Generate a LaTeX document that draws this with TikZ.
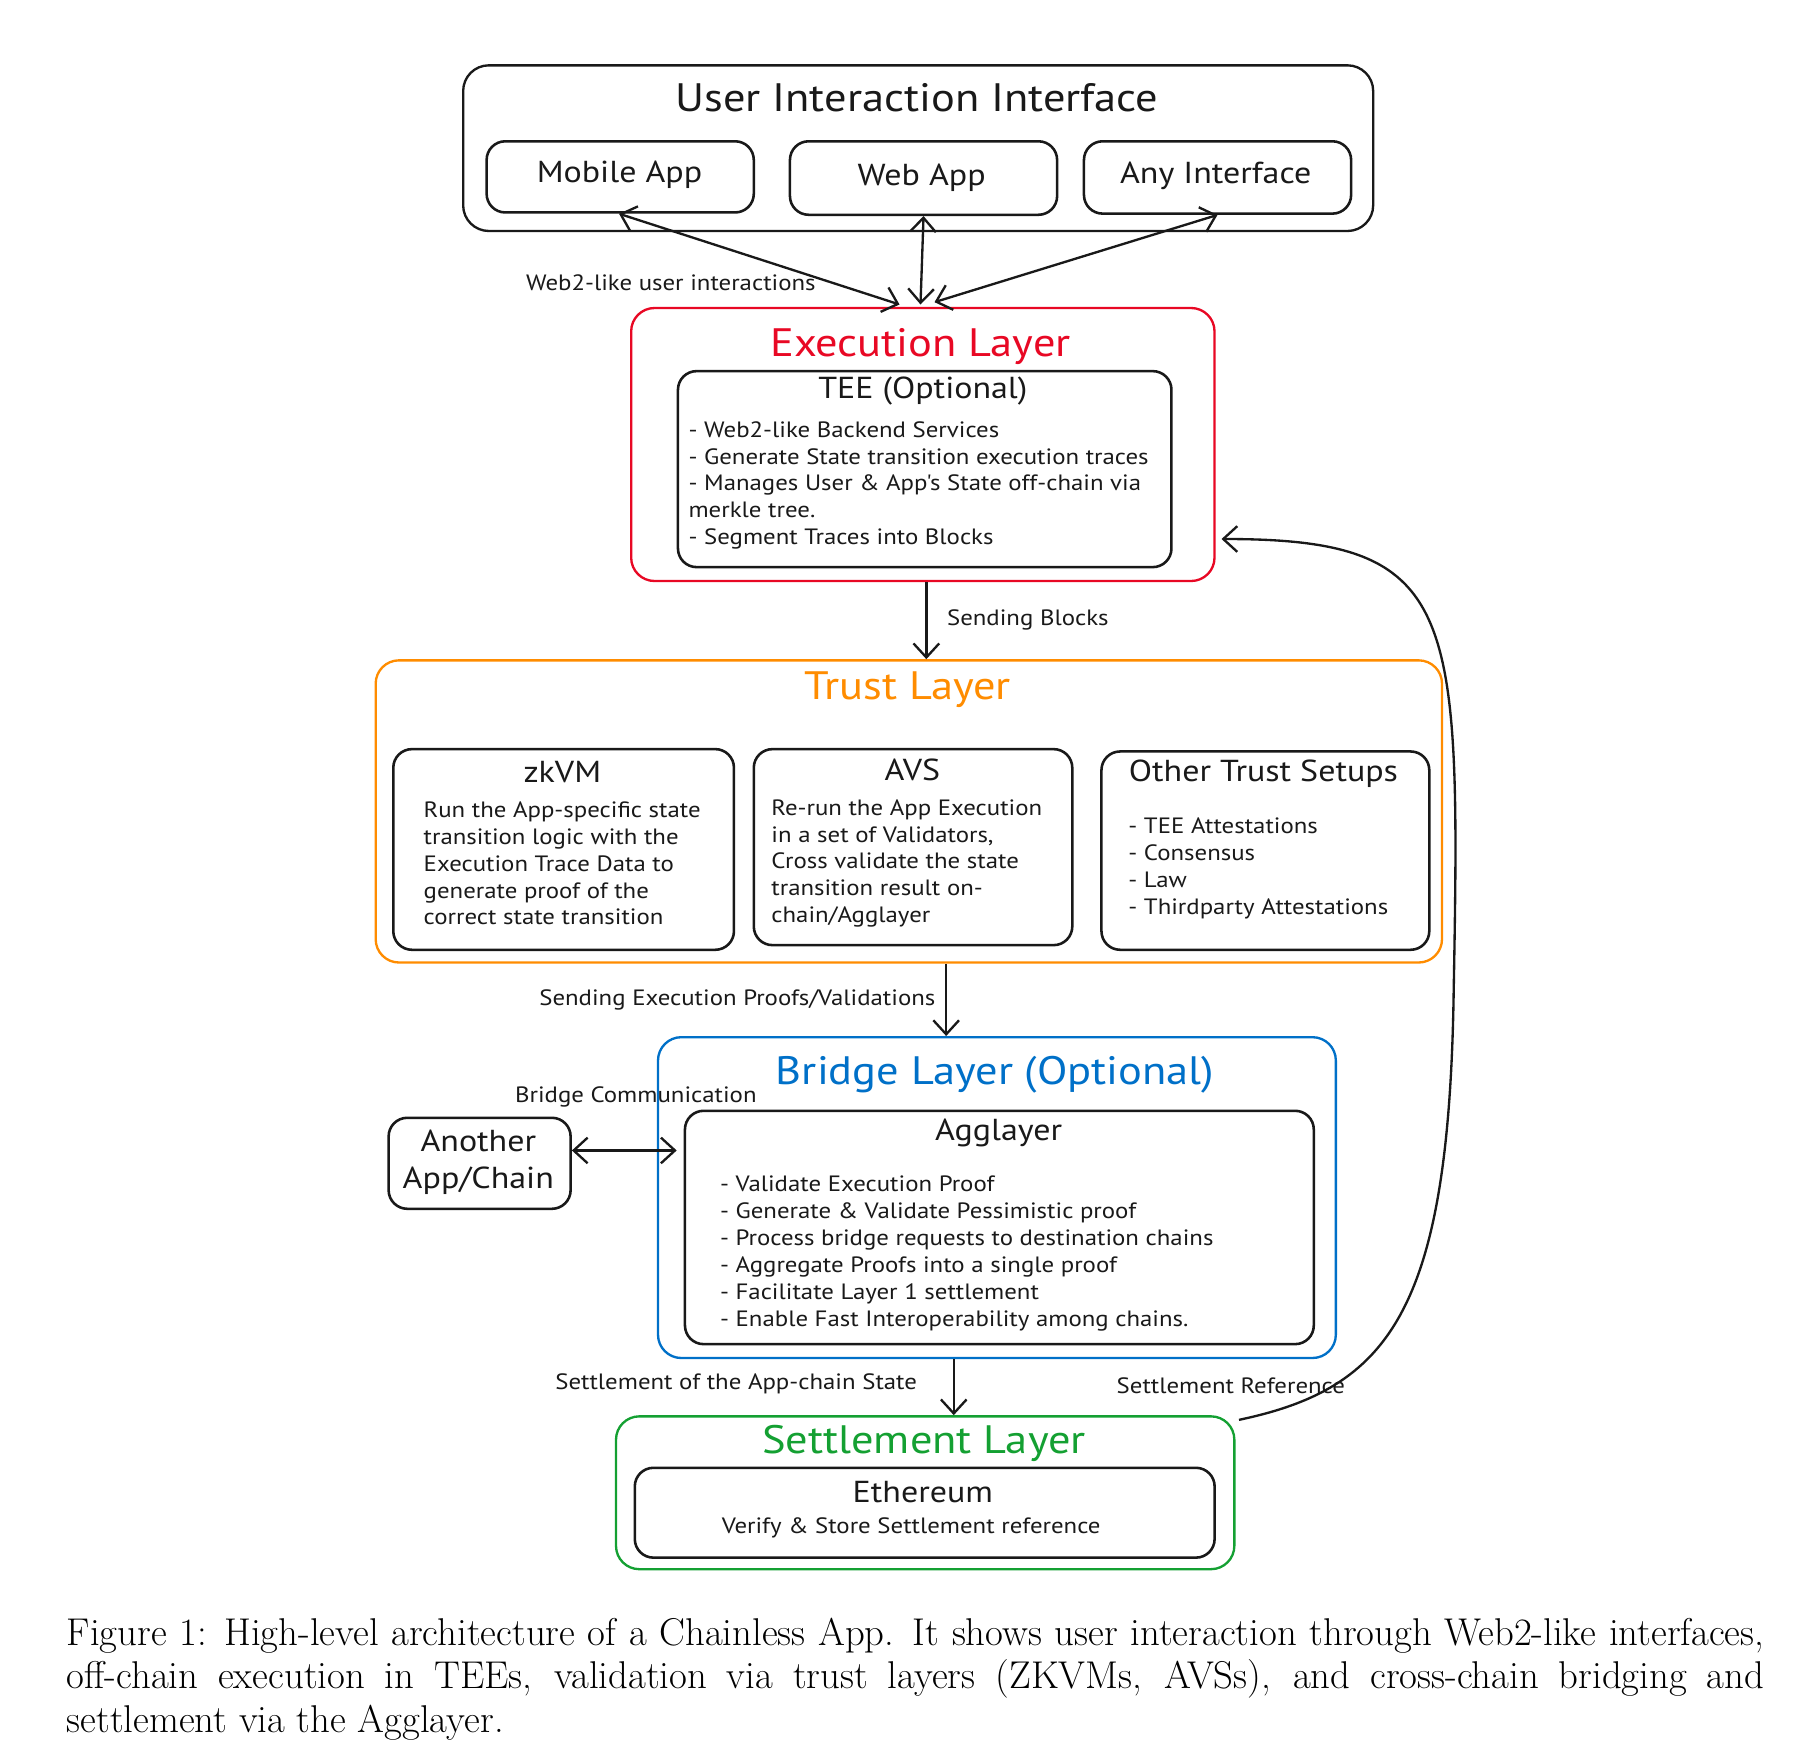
\documentclass[tikz,border=0pt]{standalone}
\usepackage{fontspec}
\newfontfamily\sk[FakeStretch=1.12]{PT Sans}
\usetikzlibrary{arrows.meta,calc}
\definecolor{exred}{RGB}{232,8,36}
\definecolor{exorange}{RGB}{255,140,0}
\definecolor{exblue}{RGB}{0,112,200}
\definecolor{exgreen}{RGB}{20,160,50}
\definecolor{ink}{RGB}{25,25,25}
\newcommand\fbody{\sk\fontsize{19}{23}\selectfont}
\newcommand\fcard{\sk\fontsize{26}{32}\selectfont}
\newcommand\flayer{\sk\fontsize{34}{40}\selectfont}
\newcommand\mkbox[6]{\node[box,#6,minimum width=#4pt,minimum height=#5pt] (#1) at (#2,#3) {};}
\begin{document}
\begin{tikzpicture}[x=1pt,y=-1pt,
  box/.style={draw=ink,rounded corners=16pt,line width=2.2pt,inner sep=0pt,anchor=north west},
  layer/.style={rounded corners=20pt,line width=2pt},
  ltitle/.style={font=\flayer,inner sep=0pt},
  ctitle/.style={font=\fcard,inner sep=0pt,text=ink},
  body/.style={font=\fbody,inner sep=0pt,align=left,anchor=north west,text=ink},
  lbl/.style={font=\fbody,inner sep=0pt,text=ink},
  capline/.style={anchor=base west,inner sep=0pt,font=\fontsize{33.2}{37.5}\selectfont},
  arr/.style={draw=ink,line width=2pt,-{Straight Barb[length=12pt,width=22pt,line width=2pt]}},
  darr/.style={draw=ink,line width=2pt,{Straight Barb[length=12pt,width=22pt,line width=2pt]}-{Straight Barb[length=12pt,width=22pt,line width=2pt]}}
]
\useasboundingbox (0,0) rectangle (1560,1507);

% ---------- User Interaction Interface ----------
\mkbox{ui}{396}{55}{780}{142}{layer,rounded corners=22pt}
\node[ltitle,text=ink] (uit) at (786,84) {User Interaction Interface};
\mkbox{mob}{416}{120}{229}{61}{}
\mkbox{web}{676}{120}{229}{63}{}
\mkbox{any}{928}{120}{229}{62}{}
\node[ctitle] (mobt) at (531,150) {Mobile App};
\node[ctitle] (webt) at (790,152) {Web App};
\node[ctitle] (anyt) at (1042,151) {Any Interface};

% ---------- Execution Layer ----------
\mkbox{exe}{540}{263}{500}{234}{layer,draw=exred}
\node[ltitle,text=exred] (exet) at (789,297) {Execution Layer};
\mkbox{tee}{580}{317}{423}{168}{}
\node[ctitle] (teet) at (791,335) {TEE (Optional)};
\node[body] (teeb) at (590,361) {- Web2-like Backend Services\\- Generate State transition execution traces\\- Manages User \& App's State off-chain via\\merkle tree.\\- Segment Traces into Blocks};

% ---------- Trust Layer ----------
\mkbox{trust}{321}{565}{914}{259}{layer,draw=exorange}
\node[ltitle,text=exorange] (trustt) at (778,591) {Trust Layer};
\mkbox{zk}{336}{641}{292}{172}{}
\mkbox{avs}{645}{641}{273}{168}{}
\mkbox{oth}{943}{643}{281}{170}{}
\node[ctitle] (zkt) at (482,662) {zkVM};
\node[body] (zkb) at (363,687) {Run the App-specific state\\transition logic with the\\Execution Trace Data to\\generate proof of the\\correct state transition};
\node[ctitle] (avst) at (782,660) {AVS};
\node[body] (avsb) at (661,685) {Re-run the App Execution\\in a set of Validators,\\Cross validate the state\\transition result on-\\chain/Agglayer};
\node[ctitle] (otht) at (1083,663) {Other Trust Setups};
\node[body] (othb) at (967,701) {- TEE Attestations\\- Consensus\\- Law\\- Thirdparty Attestations};

% ---------- Bridge Layer ----------
\mkbox{bridge}{563}{888}{581}{275}{layer,draw=exblue}
\node[ltitle,text=exblue] (bridget) at (853,921) {Bridge Layer (Optional)};
\mkbox{agg}{586}{951}{539}{200}{}
\node[ctitle] (aggt) at (856,971) {Agglayer};
\node[body] (aggb) at (617,1008) {- Validate Execution Proof\\- Generate \& Validate Pessimistic proof\\- Process bridge requests to destination chains\\- Aggregate Proofs into a single proof\\- Facilitate Layer 1 settlement\\- Enable Fast Interoperability among chains.};
\mkbox{another}{332}{957}{156}{78}{}
\node[ctitle,align=center,font=\sk\fontsize{26}{32}\selectfont] (anothert) at (410,996) {Another\\App/Chain};

% ---------- Settlement Layer ----------
\mkbox{settle}{527}{1213}{530}{131}{layer,draw=exgreen}
\node[ltitle,text=exgreen] (settlet) at (792,1237) {Settlement Layer};
\mkbox{eth}{543}{1257}{497}{77}{}
\node[ctitle] (etht) at (791,1279) {Ethereum};
\node[lbl] (ethb) at (781,1310) {Verify \& Store Settlement reference};

% ---------- connectors ----------
\draw[darr] ([xshift=-1pt]mob.south) -- ($(exe.north)+(-20,-2)$);
\draw[darr] (web.south) -- ($(exe.north)+(-2,-2)$);
\draw[darr] (any.south) -- ($(exe.north)+(10,-4)$);
\node[lbl] (l1) at (575,242) {Web2-like user interactions};

\draw[arr] ([xshift=3pt]exe.south) -- ([xshift=3pt]exe.south |- trust.north);
\node[lbl] (l2) at (881,531) {Sending Blocks};

\draw[arr] ([xshift=32pt]trust.south) -- ([xshift=32pt]trust.south |- bridge.north);
\node[lbl] (l3) at (632,857) {Sending Execution Proofs/Validations};

\draw[darr] ([yshift=11pt]another.east) -- ($([yshift=11pt]another.east -| agg.west)+(-6,0)$);
\node[lbl] (l4) at (545,940) {Bridge Communication};

\draw[arr] ([xshift=-37pt]bridge.south) -- ([xshift=-37pt]bridge.south |- settle.north);
\node[lbl] (l5) at (631,1186) {Settlement of the App-chain State};

\draw[arr] ($(settle.north east)+(3,4)$) .. controls (1190,1190) and (1242,1125) .. (1246,850)
   .. controls (1252,520) and (1250,462) .. ($(exe.east)+(5,81)$);
\node[lbl] (l6) at (1055,1188) {Settlement Reference};

% ---------- caption ----------
\node[capline] (cap1) at (57,1410) {\makebox[1455pt][s]{Figure 1: High-level architecture of a Chainless App. It shows user interaction through Web2-like interfaces,}};
\node[capline] (cap2) at (57,1447.5) {\makebox[1455pt][s]{off-chain execution in TEEs, validation via trust layers (ZKVMs, AVSs), and cross-chain bridging and}};
\node[capline] (cap3) at (57,1485) {settlement via the Agglayer.};
\end{tikzpicture}
\end{document}
